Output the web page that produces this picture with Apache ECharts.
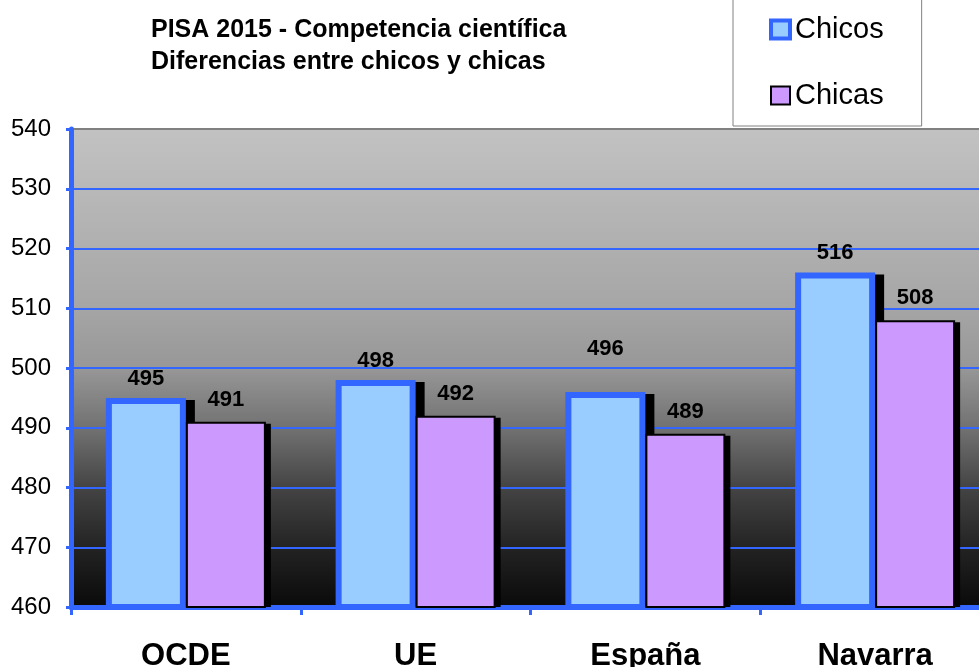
<!DOCTYPE html>
<html>
<head>
<meta charset="utf-8">
<script src="https://cdn.jsdelivr.net/npm/echarts@6/dist/echarts.min.js"></script>
<style>
html, body { margin: 0; padding: 0; background: #fff; }
#chart { width: 979px; height: 667px; }
</style>
</head>
<body>
<div id="chart"></div>
<script>
// PISA 2015 - ciencias, chicos / chicas
var categories = ['OCDE', 'UE', 'España', 'Navarra'];
var chicos = [495, 498, 496, 516];
var chicas = [491, 492, 489, 508];
var yTicks = [460, 470, 480, 490, 500, 510, 520, 530, 540];

var chart = echarts.init(document.getElementById('chart'));

var blue = '#3366ff';
var barW = 80;

// la etiqueta de España va algo más alta en el original
var chicosData = chicos.map(function (v, i) {
	return i === 2 ? { value: v, label: { distance: 32 } } : v;
});

// sombras negras detrás de las barras (solo hacia fuera)
var shadowData = chicos.map(function (v, i) { return [i, v, 0]; })
	.concat(chicas.map(function (v, i) { return [i, v, 1]; }));

function renderShadow(params, api) {
	var idx = api.value(0);
	var serie = api.value(2);
	var top = api.coord([idx, api.value(1)]);
	var base = api.coord([idx, yTicks[0]]);
	var border = serie === 0 ? 3 : 1;
	var offX = serie === 0 ? 6 : 4;
	var offY = serie === 0 ? 5 : 3;
	var left = (serie === 0 ? top[0] - barW : top[0]) - border + offX;
	var y = top[1] - border + offY;
	return {
		type: 'rect',
		shape: { x: left, y: y, width: barW + border * 2, height: base[1] - y },
		style: { fill: '#000' }
	};
}

var option = {
	animation: false,
	textStyle: { fontFamily: 'Liberation Sans, Arial, sans-serif' },
	title: {
		text: 'PISA 2015 - Competencia científica\nDiferencias entre chicos y chicas',
		left: 146,
		top: 9,
		textStyle: {
			fontSize: 25,
			fontWeight: 'bold',
			color: '#000',
			lineHeight: 32
		}
	},
	legend: {
		orient: 'vertical',
		left: 733,
		top: -4,
		padding: [19, 38, 16, 36],
		itemGap: 37,
		itemWidth: 19,
		itemHeight: 18,
		icon: 'rect',
		borderColor: '#808080',
		borderWidth: 1,
		backgroundColor: '#fff',
		textStyle: { fontSize: 29, color: '#000', lineHeight: 29 },
		data: [
			{ name: 'Chicos', itemStyle: { color: '#99ccff', borderColor: blue, borderWidth: 4, shadowColor: 'transparent' } },
			{ name: 'Chicas', itemStyle: { color: '#cc99ff', borderColor: '#000', borderWidth: 2, shadowColor: 'transparent' } }
		]
	},
	grid: {
		left: 71,
		top: 129,
		height: 478,
		width: 919,
		outerBoundsMode: 'none',
		containLabel: false,
		show: true,
		borderWidth: 0,
		backgroundColor: {
			type: 'linear', x: 0, y: 0, x2: 0, y2: 1,
			colorStops: [
				{ offset: 0, color: '#c2c2c2' },
				{ offset: 0.37, color: '#a6a6a6' },
				{ offset: 0.5, color: '#979797' },
				{ offset: 0.63, color: '#707070' },
				{ offset: 0.75, color: '#444444' },
				{ offset: 0.88, color: '#222222' },
				{ offset: 1, color: '#0a0a0a' }
			]
		}
	},
	xAxis: {
		type: 'category',
		data: categories,
		axisLine: { lineStyle: { color: blue, width: 5 } },
		axisTick: { show: true, length: 8, lineStyle: { color: blue, width: 3 } },
		axisLabel: { fontSize: 31, fontWeight: 'bold', color: '#000', margin: 34 },
		splitLine: { show: false }
	},
	yAxis: {
		type: 'value',
		min: yTicks[0],
		max: yTicks[yTicks.length - 1],
		interval: 10,
		axisLine: { show: true, lineStyle: { color: blue, width: 5 } },
		axisTick: { show: true, length: 5, lineStyle: { color: blue, width: 3 } },
		axisLabel: { fontSize: 24, color: '#000', margin: 20 },
		splitLine: {
			lineStyle: {
				width: 2,
				color: yTicks.map(function (t, i) { return i === yTicks.length - 1 ? '#808080' : blue; })
			}
		}
	},
	series: [
		{
			name: 'sombra',
			type: 'custom',
			renderItem: renderShadow,
			encode: { x: 0, y: 1 },
			data: shadowData,
			silent: true
		},
		{
			name: 'Chicos',
			type: 'bar',
			barWidth: barW,
			barGap: '0%',
			data: chicosData,
			itemStyle: {
				color: '#99ccff',
				borderColor: blue,
				borderWidth: 6
			},
			label: {
				show: true,
				position: 'top',
				distance: 8,
				fontSize: 22,
				fontWeight: 'bold',
				color: '#000'
			}
		},
		{
			name: 'Chicas',
			type: 'bar',
			barWidth: barW,
			barGap: '0%',
			data: chicas,
			itemStyle: {
				color: '#cc99ff',
				borderColor: '#000',
				borderWidth: 2
			},
			label: {
				show: true,
				position: 'top',
				distance: 11,
				fontSize: 22,
				fontWeight: 'bold',
				color: '#000'
			}
		}
	]
};

chart.setOption(option);
</script>
</body>
</html>
